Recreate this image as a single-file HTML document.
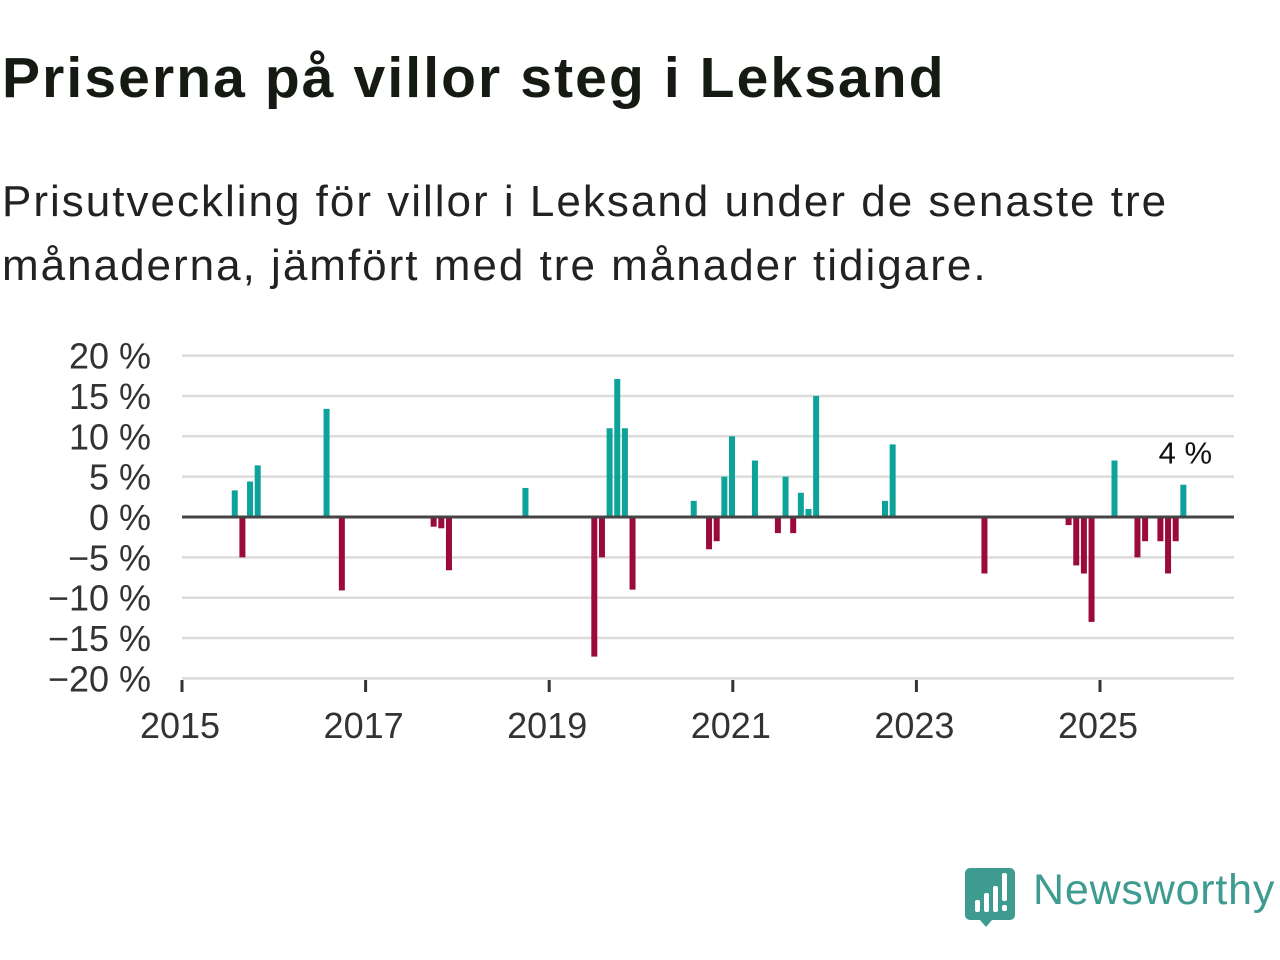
<!DOCTYPE html>
<html><head><meta charset="utf-8">
<style>
body{margin:0;background:#fff;width:1280px;height:960px;overflow:hidden;font-family:"Liberation Sans","DejaVu Sans",sans-serif;}
#title{position:absolute;left:2px;top:46px;margin:0;font-size:57px;line-height:64px;font-weight:bold;color:#151a12;white-space:nowrap;letter-spacing:2.1px;}
#sub{position:absolute;left:2px;top:170px;margin:0;font-size:44px;line-height:64px;color:#222;letter-spacing:2px;white-space:nowrap;}
svg{position:absolute;left:0;top:0;}
</style></head><body>
<h1 id="title">Priserna på villor steg i Leksand</h1>
<p id="sub">Prisutveckling för villor i Leksand under de senaste tre<br>månaderna, jämfört med tre månader tidigare.</p>
<svg id="chart" width="1280" height="960">
<g id="grid"></g>
<g id="bars"></g>
<g id="axes"></g>
<g>
<path d="M970 868 h40 a5 5 0 0 1 5 5 v42 a5 5 0 0 1 -5 5 h-18 l-6 7 l-6 -7 h-10 a5 5 0 0 1 -5 -5 v-42 a5 5 0 0 1 5 -5z" fill="#3d9b8f"/>
<rect x="975" y="900" width="5" height="12" fill="#fff" rx="2"/>
<rect x="984" y="893" width="5" height="19" fill="#fff" rx="2"/>
<rect x="993" y="886" width="5" height="26" fill="#fff" rx="2"/>
<rect x="1002" y="873" width="5" height="28" fill="#fff" rx="2"/>
<rect x="1002" y="905" width="5" height="6" fill="#fff" rx="2"/>
<text x="1033" y="904" font-size="43" letter-spacing="0.8" fill="#3d9b8f" font-family="Liberation Sans, sans-serif">Newsworthy</text>
</g>
</svg>
<script>
const months = [7,8,9,10,19,21,33,34,35,45,54,55,56,57,58,59,67,69,70,71,72,75,78,79,80,81,82,83,92,93,105,116,117,118,119,122,125,126,128,129,130,131];
const values = [3.3,-5,4.4,6.4,13.4,-9.1,-1.2,-1.4,-6.6,3.6,-17.3,-5,11,17.1,11,-9,2,-4,-3,5,10,7,-2,5,-2,3,1,15,2,9,-7,-1,-6,-7,-13,7,-5,-3,-3,-7,-3,4];
const yTicks = [20,15,10,5,0,-5,-10,-15,-20];
const yTickLabels = ["20 %","15 %","10 %","5 %","0 %","\u22125 %","\u221210 %","\u221215 %","\u221220 %"];
const xTicks = [2015,2017,2019,2021,2023,2025];
const lastLabel = "4 %";
const NS='http://www.w3.org/2000/svg';
const X0=182, PX_YEAR=91.8, Y0=517, PX_PCT=8.07, XR=1234;
function xYear(y){return X0+(y-2015)*PX_YEAR;}
function xMonth(m){return X0+m*PX_YEAR/12-0.8;}
function y(v){return Y0-v*PX_PCT;}
function mk(tag,attrs,parent){const e=document.createElementNS(NS,tag);for(const k in attrs)e.setAttribute(k,attrs[k]);parent.appendChild(e);return e;}
const grid=document.getElementById('grid'),bars=document.getElementById('bars'),axes=document.getElementById('axes');
yTicks.forEach((t,i)=>{
  if(t!==0){const l=mk('line',{x1:X0,x2:XR,y1:y(t),y2:y(t),stroke:'#dcdcdc','stroke-width':2.5},grid);
  
  }
  const tx=mk('text',{x:151,y:y(t)+13,'text-anchor':'end','font-size':36,fill:'#333'},axes);
  tx.textContent=yTickLabels[i];
  
  
});
months.forEach((m,i)=>{
  const v=values[i];const cx=xMonth(m);
  const r=mk('rect',{x:cx-3,width:6,y:v>=0?y(v):Y0,height:Math.abs(v)*PX_PCT,fill:v>=0?'#0ea39a':'#9a0a3c'},bars);
  
  
});
const z=mk('line',{x1:X0,x2:XR,y1:Y0,y2:Y0,stroke:'#444','stroke-width':3},axes);


xTicks.forEach(t=>{
  const tk=mk('line',{x1:xYear(t),x2:xYear(t),y1:680,y2:692,stroke:'#333','stroke-width':3},axes);
  
  
  const tx=mk('text',{x:xYear(t)-2,y:738,'text-anchor':'middle','font-size':36,fill:'#333'},axes);
  tx.textContent=String(t);
  
  
});
const li=months.length-1;
const ll=mk('text',{x:xMonth(months[li])+2,y:y(values[li])-21,'text-anchor':'middle','font-size':31,fill:'#111'},axes);
ll.textContent=lastLabel;


</script>
</body></html>
